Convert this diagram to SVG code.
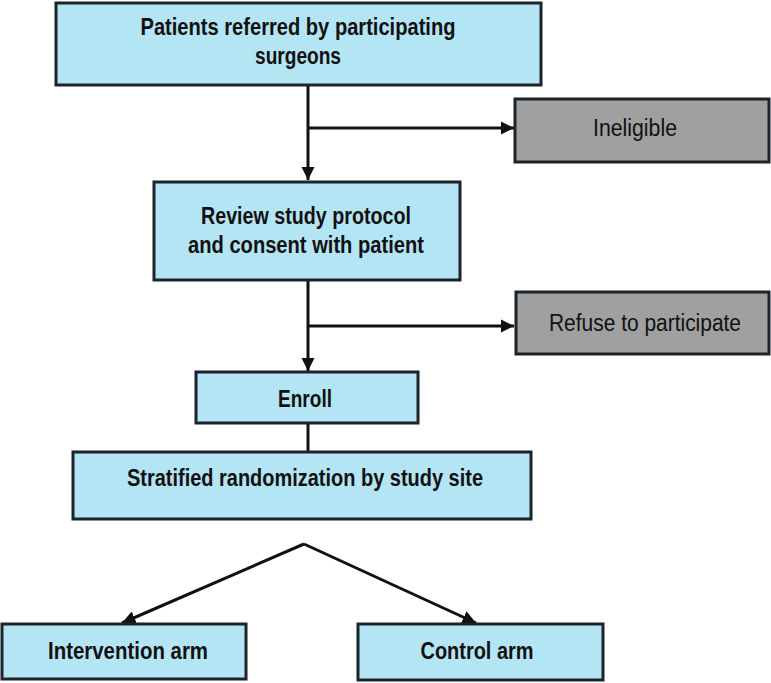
<svg xmlns="http://www.w3.org/2000/svg" width="771" height="683" viewBox="0 0 771 683">
<style>
.box{fill:#b4e5f5;stroke:#1b232b;stroke-width:3}
.gray{fill:#a0a0a0;stroke:#1b232b;stroke-width:3}
.t{font-family:"Liberation Sans",Arial,sans-serif;font-size:23px;font-weight:bold;fill:#111;text-anchor:middle;dominant-baseline:central}
.tr{font-family:"Liberation Sans",Arial,sans-serif;font-size:23px;fill:#111;text-anchor:middle;dominant-baseline:central}
.c{stroke:#111;stroke-width:3;fill:none}
</style>
<defs>
<marker id="ah" viewBox="0 0 10 10" refX="10" refY="5" markerWidth="4.5" markerHeight="4.5" markerUnits="strokeWidth" orient="auto">
<path d="M0,0 L10,5 L0,10 Z" fill="#111"/>
</marker>
</defs>
<g id="connectors">
<line class="c" x1="308" y1="86" x2="308" y2="180" marker-end="url(#ah)"/>
<line class="c" x1="308" y1="128" x2="514" y2="128" marker-end="url(#ah)"/>
<line class="c" x1="308" y1="281" x2="308" y2="371" marker-end="url(#ah)"/>
<line class="c" x1="308" y1="326" x2="514" y2="326" marker-end="url(#ah)"/>
<line class="c" x1="308" y1="424" x2="308" y2="452"/>
<line class="c" x1="304" y1="544" x2="122" y2="623" marker-end="url(#ah)"/>
<line class="c" x1="304" y1="544" x2="476" y2="623" marker-end="url(#ah)"/>
</g>
<g id="n1"><rect class="box" x="56" y="3" width="485" height="82"/>
<text class="t" x="298" y="27" textLength="315" lengthAdjust="spacingAndGlyphs">Patients referred by participating</text>
<text class="t" x="298" y="56" textLength="86" lengthAdjust="spacingAndGlyphs">surgeons</text></g>
<g id="n2"><rect class="gray" x="515" y="99" width="254" height="63"/>
<text class="tr" x="635" y="128" textLength="84" lengthAdjust="spacingAndGlyphs">Ineligible</text></g>
<g id="n3"><rect class="box" x="154" y="182" width="306" height="98"/>
<text class="t" x="306" y="216" textLength="210" lengthAdjust="spacingAndGlyphs">Review study protocol</text>
<text class="t" x="306" y="245" textLength="236" lengthAdjust="spacingAndGlyphs">and consent with patient</text></g>
<g id="n4"><rect class="gray" x="516" y="292" width="253" height="62"/>
<text class="tr" x="645" y="323" textLength="192" lengthAdjust="spacingAndGlyphs">Refuse to participate</text></g>
<g id="n5"><rect class="box" x="196" y="372" width="222" height="51"/>
<text class="t" x="305" y="399" textLength="54" lengthAdjust="spacingAndGlyphs">Enroll</text></g>
<g id="n6"><rect class="box" x="73" y="452" width="458" height="67"/>
<text class="t" x="305" y="478" textLength="356" lengthAdjust="spacingAndGlyphs">Stratified randomization by study site</text></g>
<g id="n7"><rect class="box" x="2" y="624" width="244" height="55"/>
<text class="t" x="128" y="651" textLength="160" lengthAdjust="spacingAndGlyphs">Intervention arm</text></g>
<g id="n8"><rect class="box" x="358" y="624" width="245" height="56"/>
<text class="t" x="477" y="651" textLength="113" lengthAdjust="spacingAndGlyphs">Control arm</text></g>
</svg>
